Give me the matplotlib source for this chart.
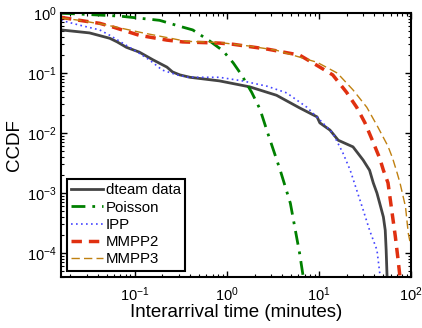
import numpy as np
import matplotlib
matplotlib.use("Agg")
import matplotlib.pyplot as plt

plt.rcParams['font.family'] = ['Liberation Sans', 'DejaVu Sans']
plt.rcParams['mathtext.fontset'] = 'custom'
plt.rcParams['mathtext.rm'] = 'Liberation Sans'
plt.rcParams['mathtext.it'] = 'Liberation Sans'
plt.rcParams['mathtext.default'] = 'regular'

# values (log10 of x in minutes, log10 of CCDF)
dteam_lx = [-1.80, -1.49, -1.27, -1.19, -1.09, -0.95, -0.80, -0.65, -0.59, -0.51, -0.40, -0.08, 0.25, 0.54, 0.79, 0.98, 1.01, 1.12, 1.21, 1.37, 1.42, 1.48, 1.55, 1.59, 1.63, 1.66, 1.70, 1.72, 1.73, 1.74]
dteam_ly = [-0.28, -0.33, -0.42, -0.48, -0.57, -0.65, -0.78, -0.90, -0.98, -1.03, -1.07, -1.13, -1.23, -1.37, -1.58, -1.73, -1.83, -1.95, -2.12, -2.23, -2.33, -2.45, -2.62, -2.83, -3.00, -3.17, -3.40, -3.62, -3.95, -4.40]

poisson_lx = [-1.80, -1.16, -0.73, -0.51, -0.37, -0.19, -0.04, 0.07, 0.16, 0.27, 0.36, 0.44, 0.58, 0.69, 0.79, 0.83]
poisson_ly = [0.00, -0.05, -0.12, -0.22, -0.28, -0.46, -0.63, -0.83, -1.03, -1.32, -1.60, -1.98, -2.62, -3.17, -4.00, -4.40]

ipp_lx = [-1.80, -1.60, -1.38, -1.27, -1.13, -0.95, -0.84, -0.70, -0.54, -0.42, -0.08, 0.17, 0.44, 0.65, 0.87, 1.01, 1.15, 1.26, 1.34, 1.41, 1.48, 1.55, 1.63, 1.66, 1.67]
ipp_ly = [-0.12, -0.20, -0.28, -0.37, -0.50, -0.67, -0.78, -0.95, -1.03, -1.07, -1.07, -1.13, -1.22, -1.33, -1.57, -1.78, -2.00, -2.33, -2.62, -2.95, -3.28, -3.62, -3.95, -4.33, -4.40]

mmpp2_lx = [-1.80, -1.60, -1.38, -1.24, -0.95, -0.65, -0.48, -0.08, 0.07, 0.44, 0.79, 1.01, 1.15, 1.30, 1.41, 1.50, 1.58, 1.66, 1.70, 1.75, 1.79, 1.83, 1.86, 1.88]
mmpp2_ly = [-0.07, -0.12, -0.17, -0.23, -0.37, -0.45, -0.48, -0.50, -0.52, -0.60, -0.70, -0.90, -1.03, -1.32, -1.57, -1.83, -2.12, -2.42, -2.62, -2.83, -3.28, -3.73, -4.12, -4.40]

mmpp3_lx = [-1.80, -1.60, -1.30, -0.91, -0.44, -0.08, 0.25, 0.54, 0.98, 1.20, 1.37, 1.52, 1.64, 1.75, 1.80, 1.85, 1.88, 1.94, 1.97, 2.00]
mmpp3_ly = [-0.08, -0.12, -0.20, -0.33, -0.47, -0.49, -0.55, -0.62, -0.82, -1.00, -1.28, -1.57, -1.90, -2.22, -2.42, -2.67, -2.83, -3.23, -3.67, -3.90]

fig = plt.figure(figsize=(4.22, 3.28), dpi=100)
ax = fig.add_axes([0.1445, 0.1555, 0.8295, 0.8045])

def p(lx, ly):
    return 10 ** np.array(lx), 10 ** np.array(ly)

ax.plot(*p(dteam_lx, dteam_ly), color='#444444', lw=2, label='dteam data')
ax.plot(*p(poisson_lx, poisson_ly), color='#008000', lw=2, ls=(0, (5, 2.5, 1, 2.5)), label='Poisson')
ax.plot(*p(ipp_lx, ipp_ly), color='#4444ff', lw=1.2, ls=(0, (1, 2)), label='IPP')
ax.plot(*p(mmpp2_lx, mmpp2_ly), color='#e03010', lw=2.5, ls=(0, (3, 2)), label='MMPP2')
ax.plot(*p(mmpp3_lx, mmpp3_ly), color='#c08010', lw=1, ls=(0, (6, 3)), label='MMPP3')

ax.set_xscale('log')
ax.set_yscale('log')
ax.set_xlim(10 ** -1.8, 100)
ax.set_ylim(10 ** -4.4, 1)
ax.set_xlabel('Interarrival time (minutes)', fontsize=13.5, labelpad=0)
ax.set_ylabel('CCDF', fontsize=13.5)
ax.yaxis.set_label_coords(-0.108, 0.5)
ax.tick_params(which='both', direction='in', top=True, right=True, labelsize=10.5)
ax.tick_params(which='major', length=4, width=1)
ax.tick_params(axis='x', which='major', pad=6)
ax.tick_params(axis='y', which='major', pad=3)
ax.tick_params(which='minor', length=2, width=0.8)
for s in ax.spines.values():
    s.set_linewidth(1.5)

leg = ax.legend(loc='lower left', fontsize=10.8, fancybox=False, framealpha=1,
                edgecolor='black', borderpad=0.3, labelspacing=0.22,
                handlelength=2.1, handletextpad=0.2, borderaxespad=0.4)
leg.get_frame().set_linewidth(1.5)

fig.savefig('out.png', dpi=100)
